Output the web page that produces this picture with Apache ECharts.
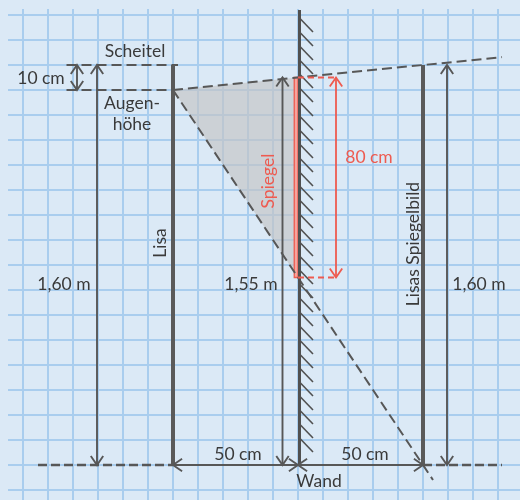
<!DOCTYPE html>
<html><head><meta charset="utf-8">
<script src="https://cdn.jsdelivr.net/npm/echarts@6/dist/echarts.min.js"></script>
<style>html,body{margin:0;padding:0;background:#dbe9f6;overflow:hidden;width:520px;height:500px}
#c{position:absolute;left:-2px;top:-10px;width:525px;height:525px}</style>
</head><body><div id="c"></div><script>
// ---- values (cm) ----
const distances = [50, 50];            // Lisa -> Wand, Wand -> Spiegelbild
const lisaLevels = [160, 150];         // Scheitel, Augenhöhe
const mirrorLevels = [75, 155];        // Spiegel unten, oben
const wallHeight = [182];
const dimLabels = ['10 cm', '1,60 m', '1,55 m', '80 cm', '1,60 m', '50 cm', '50 cm'];
const nameLabels = ['Scheitel', 'Augen-\nhöhe', 'Lisa', 'Spiegel', 'Lisas Spiegelbild', 'Wand'];

// ---- layout (positions in diagram cm, styles) ----
const lisaX = -distances[0], imgX = distances[1];
const head = lisaLevels[0], eye = lisaLevels[1];
const L = {
  tenX: -88.4, leftDimX: -80.4, dim155X: -6.2, rightDimX: 59.6, redDimX: 15.2, redDashEnd: 16,
  topRayEnd: 81.6, lowRayEnd: 54, guideStart: -92.6, groundL: -104, groundR: 81.6, wallX: 0.6
};
const dark = '#575757', red = '#ee5b50', txt = '#3a3a3a';
const FONT = 'Lato';

function rayY(x, x0, y0, x1, y1) { return y0 + (y1 - y0) * (x - x0) / (x1 - x0); }

function arrowHead(tip, from, style) {
  const dx = tip[0] - from[0], dy = tip[1] - from[1];
  const len = Math.hypot(dx, dy) || 1, ux = dx / len, uy = dy / len;
  const A = 11, t = 0.6, c = Math.cos(t), s = Math.sin(t);
  const p1 = [tip[0] - A * (ux * c - uy * s), tip[1] - A * (uy * c + ux * s)];
  const p2 = [tip[0] - A * (ux * c + uy * s), tip[1] - A * (uy * c - ux * s)];
  return { type: 'polyline', shape: { points: [p1, tip, p2] }, style: { stroke: style.stroke, lineWidth: style.lineWidth, fill: null } };
}
function segSeries(data, style, arrows, z) {
  return {
    type: 'custom', coordinateSystem: 'cartesian2d', z: z || 3, silent: true, clip: false,
    encode: { x: [0, 2], y: [1, 3] }, data: data,
    renderItem: function (params, api) {
      const a = api.coord([api.value(0), api.value(1)]);
      const b = api.coord([api.value(2), api.value(3)]);
      const ch = [{ type: 'line', shape: { x1: a[0], y1: a[1], x2: b[0], y2: b[1] }, style: Object.assign({ fill: null }, style) }];
      if (arrows) { ch.push(arrowHead(b, a, style)); ch.push(arrowHead(a, b, style)); }
      return { type: 'group', children: ch };
    }
  };
}

const sDim = { stroke: dark, lineWidth: 1.9 };
const sBody = { stroke: '#5a5a5a', lineWidth: 4 };
const sWall = { stroke: '#505050', lineWidth: 3 };
const sDash = { stroke: dark, lineWidth: 2, lineDash: [10, 5] };
const sGround = { stroke: dark, lineWidth: 2.5, lineDash: [9, 4] };
const sHatch = { stroke: '#505050', lineWidth: 1.6 };
const sRed = { stroke: red, lineWidth: 1.8 };
const sRedDash = { stroke: red, lineWidth: 2, lineDash: [6, 4] };

// hatches on the wall
const hatches = [];
for (let y = wallHeight[0] - 3.2; y > 8; y -= 5.6) hatches.push([L.wallX, y, L.wallX + 5.4, y - 5.6]);

const series = [
  {
    type: 'custom', coordinateSystem: 'cartesian2d', z: 2, silent: true, clip: false,
    data: [[lisaX, eye, 0, mirrorLevels[1], 0, mirrorLevels[0]]],
    renderItem: function (p, api) {
      const pts = [0, 2, 4].map(i => api.coord([api.value(i), api.value(i + 1)]));
      return { type: 'polygon', shape: { points: pts }, style: { fill: 'rgba(196,196,198,0.66)' } };
    }
  },
  {
    type: 'custom', coordinateSystem: 'cartesian2d', z: 4, silent: true, clip: false,
    data: [[-1.5, mirrorLevels[0], 0, mirrorLevels[1]]],
    renderItem: function (p, api) {
      const a = api.coord([api.value(0), api.value(3)]), b = api.coord([api.value(2), api.value(1)]);
      return { type: 'rect', shape: { x: a[0], y: a[1], width: b[0] - a[0], height: b[1] - a[1] }, style: { fill: '#f6a39c', stroke: red, lineWidth: 1.3 } };
    }
  },
  segSeries(hatches, sHatch, false, 3),
  segSeries([[L.wallX, 0, L.wallX, wallHeight[0]]], sWall, false, 5),
  segSeries([[lisaX, 0, lisaX, head], [imgX, 0, imgX, head]], sBody, false, 5),
  segSeries([
    [lisaX, eye, L.topRayEnd, rayY(L.topRayEnd, lisaX, eye, imgX, head)],
    [lisaX, eye, L.lowRayEnd, rayY(L.lowRayEnd, lisaX, eye, imgX, 0)],
    [L.guideStart, head, lisaX + 2, head],
    [L.guideStart, eye, lisaX, eye]
  ], sDash, false, 4),
  segSeries([[L.groundL, 0, lisaX, 0], [imgX, 0, L.groundR, 0]], sGround, false, 4),
  segSeries([
    [L.tenX, eye, L.tenX, head],
    [L.leftDimX, 0, L.leftDimX, head],
    [L.dim155X, 0, L.dim155X, mirrorLevels[1]],
    [L.rightDimX, 0, L.rightDimX, head],
    [lisaX, 0, 0, 0],
    [0, 0, imgX, 0]
  ], sDim, true, 6),
  segSeries([[0, mirrorLevels[0], L.redDashEnd, mirrorLevels[0]], [0, mirrorLevels[1], L.redDashEnd, mirrorLevels[1]]], sRedDash, false, 5),
  segSeries([[L.redDimX, mirrorLevels[0], L.redDimX, mirrorLevels[1]]], sRed, true, 6)
];

const texts = [
  { t: nameLabels[0], p: [-65.2, 165.6] },
  { t: dimLabels[0], p: [-102.8, 154.8] },
  { t: nameLabels[1], p: [-66.4, 140.4] },
  { t: dimLabels[1], p: [-93.6, 72.4] },
  { t: nameLabels[2], p: [-55.2, 88.8], r: true },
  { t: nameLabels[3], p: [-12, 113.6], r: true, c: red },
  { t: dimLabels[2], p: [-18.8, 72.4] },
  { t: dimLabels[3], p: [28.4, 123.2], c: red },
  { t: nameLabels[4], p: [46, 88.4], r: true },
  { t: dimLabels[4], p: [72.4, 72.4] },
  { t: dimLabels[5], p: [-24, 4.4] },
  { t: dimLabels[6], p: [26.8, 4.4] },
  { t: nameLabels[5], p: [8.4, -6.4] }
];
series.push({
  type: 'custom', coordinateSystem: 'cartesian2d', z: 8, silent: true, clip: false,
  data: texts.map(d => d.p),
  renderItem: function (p, api) {
    const d = texts[p.dataIndex];
    const c = api.coord([api.value(0), api.value(1)]);
    return {
      type: 'text', x: c[0], y: c[1], rotation: d.r ? Math.PI / 2 : 0,
      style: { text: d.t, fill: d.c || txt, fontFamily: FONT, fontSize: 17.5, align: 'center', verticalAlign: 'middle', lineHeight: 21 }
    };
  }
});

const hidden = { axisLine: { show: false }, axisTick: { show: false }, axisLabel: { show: false } };
const gridLine = { show: true, lineStyle: { color: '#a9cdee', width: 2 } };
const chart = echarts.init(document.getElementById('c'), null, { renderer: 'canvas' });
// container is 525x525 placed at page (-2,-10): 2.5 px per cm
chart.setOption({
  backgroundColor: '#dbe9f6',
  animation: false,
  grid: { left: 0, right: 0, top: 0, bottom: 0 },
  xAxis: Object.assign({ type: 'value', min: -120, max: 90, interval: 10, splitLine: gridLine }, hidden),
  yAxis: Object.assign({ type: 'value', min: -20, max: 190, interval: 10, splitLine: gridLine }, hidden),
  graphic: [
    { type: 'rect', z: 1, left: 0, top: 0, shape: { width: 10, height: 525 }, style: { fill: '#dbe9f6' } },
    { type: 'rect', z: 1, left: 0, top: 0, shape: { width: 525, height: 19 }, style: { fill: '#dbe9f6' } }
  ],
  series: series
});
</script></body></html>
